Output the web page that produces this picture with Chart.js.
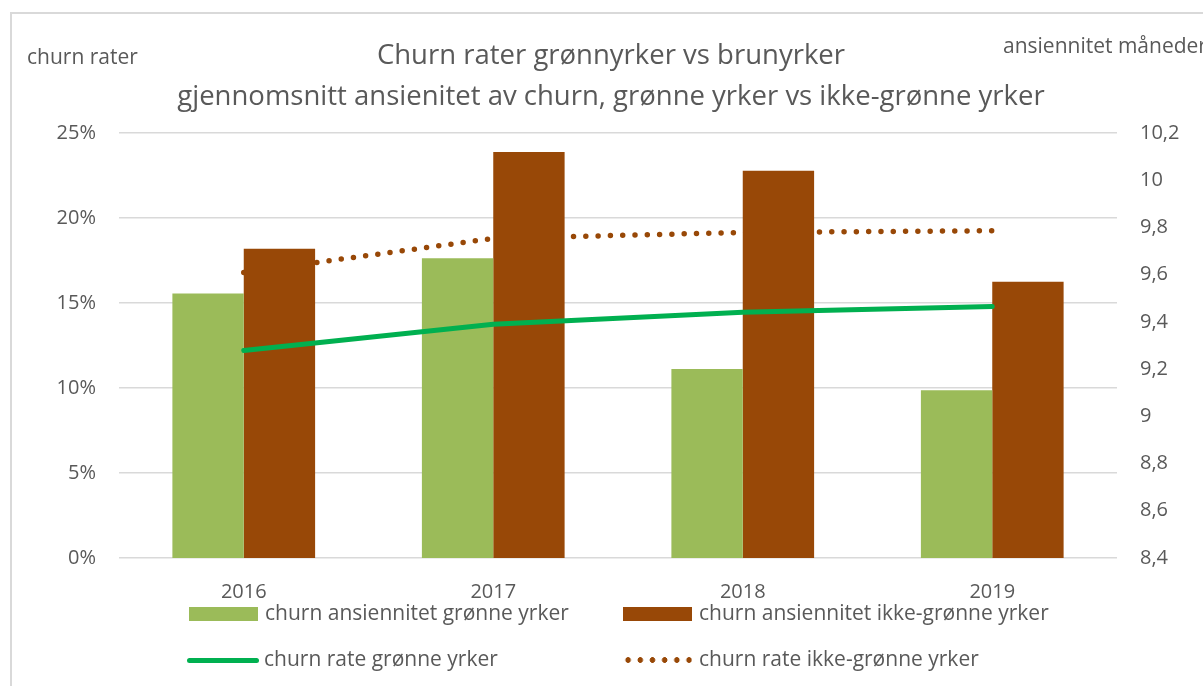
<!DOCTYPE html>
<html>
<head>
<meta charset="utf-8">
<script src="https://cdn.jsdelivr.net/npm/chart.js@4.4.1/dist/chart.umd.min.js"></script>
<style>
    html, body { margin: 0; padding: 0; background: #fff; overflow: hidden; }
    body { width: 1203px; height: 686px; position: relative; font-family: "Open Sans", sans-serif; color: #595959; }
    #frame { position: absolute; left: 10px; top: 12px; width: 1300px; height: 800px; border: 2px solid #d9d9d9; box-sizing: border-box; }
    #chart { position: absolute; left: 0; top: 0; }
    .txt { position: absolute; white-space: nowrap; line-height: 1; }
    #title { position: absolute; left: 0; width: 1222px; top: 33px; text-align: center; font-size: 27.5px; line-height: 41px; }
    .sw { position: absolute; }
</style>
</head>
<body>
<div id="frame"></div>
<canvas id="chart" width="1203" height="686"></canvas>
<div id="title">Churn rater grønnyrker vs brunyrker<br>gjennomsnitt ansienitet av churn, grønne yrker vs ikke-grønne yrker</div>
<div class="txt" style="left:27px; top:46px; font-size:21px;">churn rater</div>
<div class="txt" style="left:1003px; top:35px; font-size:21px;">ansiennitet måneder</div>
<div id="legend"></div>
<script>
// categories and values
const years = ['2016', '2017', '2018', '2019'];
const tenureGreen = [9.52, 9.67, 9.20, 9.11];     // months, right axis
const tenureOther = [9.71, 10.12, 10.04, 9.57];   // months, right axis
const rateGreen = [12.2, 13.75, 14.45, 14.8];     // %, left axis
const rateOther = [16.8, 18.8, 19.15, 19.25];     // %, left axis
const seriesNames = [
    'churn ansiennitet grønne yrker',
    'churn ansiennitet ikke-grønne yrker',
    'churn rate grønne yrker',
    'churn rate ikke-grønne yrker'
];

const GREEN_BAR = '#9bbb59';
const BROWN = '#984807';
const GREEN_LINE = '#00b050';
const TXT = '#595959';
const FONT = '"Open Sans", sans-serif';

const commaNum = v => {
    const r = Math.round(v * 10) / 10;
    return String(r).replace('.', ',');
};

new Chart(document.getElementById('chart').getContext('2d'), {
    type: 'bar',
    data: {
        labels: years,
        datasets: [
            { type: 'line', label: seriesNames[2], data: rateGreen, yAxisID: 'y',
              borderColor: GREEN_LINE, borderWidth: 5, borderCapStyle: 'round',
              pointRadius: 0, tension: 0, order: 0 },
            { label: seriesNames[0], data: tenureGreen, yAxisID: 'y1',
              backgroundColor: GREEN_BAR, barPercentage: 1, categoryPercentage: 0.572, order: 1 },
            { label: seriesNames[1], data: tenureOther, yAxisID: 'y1',
              backgroundColor: BROWN, barPercentage: 1, categoryPercentage: 0.572, order: 1 },
            { type: 'line', label: seriesNames[3], data: rateOther, yAxisID: 'y',
              borderColor: BROWN, borderWidth: 5.5, borderDash: [0, 12.3], borderCapStyle: 'round',
              pointRadius: 0, tension: 0, order: 2 },
        ]
    },
    options: {
        responsive: false,
        animation: false,
        layout: { padding: { top: 133, bottom: 88, left: 0, right: 0 } },
        plugins: { legend: { display: false }, title: { display: false }, tooltip: { enabled: false } },
        scales: {
            x: {
                grid: { display: false },
                border: { display: false },
                ticks: { color: TXT, font: { family: FONT, size: 20 }, padding: 14 },
                afterFit: s => { s.height = 40; }
            },
            y: {
                position: 'left', min: 0, max: 25,
                grid: { color: '#d9d9d9', lineWidth: 1.5, drawTicks: false },
                border: { display: false },
                ticks: { stepSize: 5, color: TXT, font: { family: FONT, size: 20 }, padding: 23,
                         callback: v => v + '%' },
                afterFit: s => { s.width = 119; }
            },
            y1: {
                position: 'right', min: 8.4, max: 10.2,
                grid: { display: false, drawTicks: false },
                border: { display: false },
                ticks: { stepSize: 0.2, color: TXT, font: { family: FONT, size: 20 }, padding: 23,
                         callback: v => commaNum(v) },
                afterFit: s => { s.width = 86; }
            }
        }
    }
});

/* ── legend, 2 x 2 like the original ── */
const legend = document.getElementById('legend');
const items = [
    { x: 189, y: 614, kind: 'box', color: GREEN_BAR, text: seriesNames[0] },
    { x: 623, y: 614, kind: 'box', color: BROWN, text: seriesNames[1] },
    { x: 187, y: 660, kind: 'line', color: GREEN_LINE, text: seriesNames[2] },
    { x: 622, y: 660, kind: 'dots', color: BROWN, text: seriesNames[3] },
];
for (const it of items) {
    const sw = document.createElement('div');
    sw.className = 'sw';
    if (it.kind === 'box') {
        sw.style.cssText = `left:${it.x}px;top:${it.y - 7}px;width:69px;height:14px;background:${it.color}`;
    } else if (it.kind === 'line') {
        sw.style.cssText = `left:${it.x}px;top:${it.y - 2.5}px;width:72px;height:5px;border-radius:3px;background:${it.color}`;
    } else {
        sw.style.cssText = `left:${it.x}px;top:${it.y - 3}px;width:70px;height:6px;` +
            `background:radial-gradient(circle, ${it.color} 2.6px, transparent 3px) 0 0 / 12.2px 6px repeat-x`;
    }
    legend.appendChild(sw);
    const t = document.createElement('div');
    t.className = 'txt';
    t.style.cssText = `left:${it.x + (it.kind === 'box' ? 76 : 77)}px;top:${it.y - 12}px;font-size:21px;`;
    t.textContent = it.text;
    legend.appendChild(t);
}
</script>
</body>
</html>
